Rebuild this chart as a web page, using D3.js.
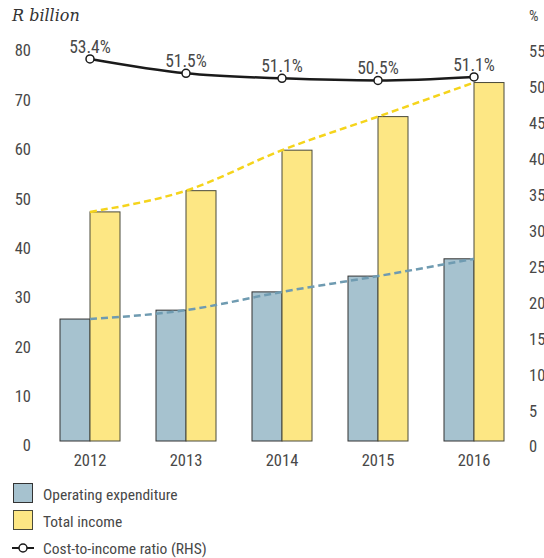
<!DOCTYPE html>
<html><head><meta charset="utf-8">
<script src="https://cdn.jsdelivr.net/npm/d3@7/dist/d3.min.js"></script>
<style>
body{margin:0;background:#fff;}
text{font-family:"Liberation Sans Narrow","Roboto Condensed",Arial,sans-serif;fill:#484848;}
</style></head>
<body><svg id="c" width="544" height="558"></svg>
<script>
const years = ["2012","2013","2014","2015","2016"];
const opex = [24.7, 26.5, 30.2, 33.4, 36.9];
const income = [46.4, 50.7, 58.9, 65.7, 72.6];
const ratio = [53.2, 51.2, 50.5, 50.2, 50.7];
const ratioLabels = ["53.4%","51.5%","51.1%","50.5%","51.1%"];
const leftTicks = [0,10,20,30,40,50,60,70,80];
const rightTicks = [0,5,10,15,20,25,30,35,40,45,50,55];
const legendItems = ["Operating expenditure","Total income","Cost-to-income ratio (RHS)"];

const svg = d3.select("#c");
const FONT = '"Liberation Sans Narrow","Roboto Condensed",Arial,sans-serif';
const x = d3.scaleBand().domain(years).range([42,522]).padding(0);
const yL = d3.scaleLinear().domain([0,80]).range([441,46]);
const yR = d3.scaleLinear().domain([0,55]).range([441,46]);
const bw = 30;
const cx = d => x(d) + x.bandwidth()/2;

// axes
const gl = svg.append("g").attr("transform","translate(31,4)")
  .call(d3.axisLeft(yL).tickValues(leftTicks).tickSize(0).tickPadding(0));
const gr = svg.append("g").attr("transform","translate(529,5)")
  .call(d3.axisRight(yR).tickValues(rightTicks).tickSize(0).tickPadding(0));
const gx = svg.append("g").attr("transform","translate(0,450)")
  .call(d3.axisBottom(x).tickSize(0).tickPadding(4));
[gl,gr,gx].forEach(g=>{g.select(".domain").remove();
  g.selectAll("text").style("font-size","16.5px").style("fill","#484848")
   .style("font-family",FONT);});
gl.selectAll("text").attr("dy","0.36em");
gr.selectAll("text").attr("dy","0.36em");

svg.append("text").attr("x",12).attr("y",21).text("R billion")
  .style("font-family","'DejaVu Serif','Liberation Serif',serif").style("font-style","italic")
  .style("font-size","16px").style("fill","#333");
svg.append("text").attr("x",529).attr("y",21).text("%").style("font-size","15px");

// bars
svg.append("g").selectAll("rect").data(years).join("rect")
  .attr("x",d=>cx(d)-bw).attr("width",bw)
  .attr("y",(d,i)=>yL(opex[i])).attr("height",(d,i)=>yL(0)-yL(opex[i]))
  .attr("fill","#a6c2cf").attr("stroke","#333").attr("stroke-width",1);
svg.append("g").selectAll("rect").data(years).join("rect")
  .attr("x",d=>cx(d)).attr("width",bw)
  .attr("y",(d,i)=>yL(income[i])).attr("height",(d,i)=>yL(0)-yL(income[i]))
  .attr("fill","#fde784").attr("stroke","#4a4a3a").attr("stroke-width",1);

// trend dashed lines
const lineL = d3.line().x((d,i)=>cx(years[i])).y(d=>yL(d)).curve(d3.curveMonotoneX);
svg.append("path").attr("d",lineL(income)).attr("fill","none")
  .attr("stroke","#f5d41c").attr("stroke-width",2.5).attr("stroke-dasharray","7,4");
svg.append("path").attr("d",lineL(opex)).attr("fill","none")
  .attr("stroke","#6f9bb1").attr("stroke-width",2.5).attr("stroke-dasharray","7,4");

// ratio line
const lineR = d3.line().x((d,i)=>cx(years[i])).y(d=>yR(d)).curve(d3.curveMonotoneX);
svg.append("path").attr("d",lineR(ratio)).attr("fill","none")
  .attr("stroke","#1a1a1a").attr("stroke-width",2.5);
svg.append("g").selectAll("circle").data(ratio).join("circle")
  .attr("cx",(d,i)=>cx(years[i])).attr("cy",d=>yR(d)).attr("r",4)
  .attr("fill","#fff").attr("stroke","#1a1a1a").attr("stroke-width",1.5);
svg.append("g").selectAll("text").data(ratio).join("text")
  .attr("x",(d,i)=>cx(years[i])).attr("y",d=>yR(d)-6).attr("text-anchor","middle")
  .style("font-size","17.5px").text((d,i)=>ratioLabels[i]);

// legend
const lg = svg.append("g");
lg.append("rect").attr("x",13.5).attr("y",483.5).attr("width",19).attr("height",19)
  .attr("fill","#a6c2cf").attr("stroke","#333");
lg.append("rect").attr("x",13.5).attr("y",510.5).attr("width",19).attr("height",19)
  .attr("fill","#fde784").attr("stroke","#4a4a3a");
lg.append("line").attr("x1",12).attr("x2",34).attr("y1",548).attr("y2",548)
  .attr("stroke","#1a1a1a").attr("stroke-width",2);
lg.append("circle").attr("cx",23).attr("cy",548).attr("r",4)
  .attr("fill","#fff").attr("stroke","#1a1a1a").attr("stroke-width",1.5);
lg.selectAll("text.l").data(legendItems).join("text").attr("class","l")
  .attr("x",43).attr("y",(d,i)=>494+i*27).attr("dy","0.36em")
  .style("font-size","15.5px").text(d=>d);
</script></body></html>
